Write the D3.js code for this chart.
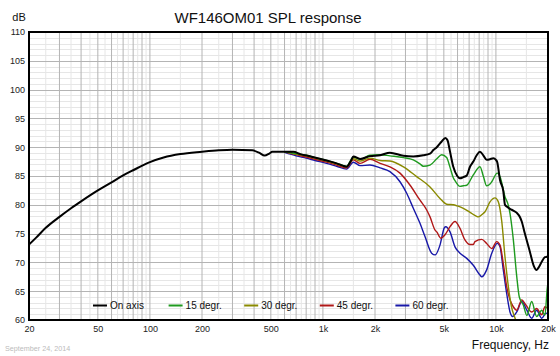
<!DOCTYPE html>
<html><head><meta charset="utf-8">
<script src="https://cdn.jsdelivr.net/npm/d3@7"></script>
<style>
html,body{margin:0;padding:0;background:#fff;}
svg{display:block;font-family:"Liberation Sans",Arial,sans-serif;}
</style></head>
<body><svg id="c" width="560" height="356"></svg>
<script>
// ---------- data ----------
const title = "WF146OM01 SPL response";
const xTickValues = [20,50,100,200,500,1000,2000,5000,10000,20000];
const xTickLabels = ["20","50","100","200","500","1k","2k","5k","10k","20k"];
const yTickValues = [60,65,70,75,80,85,90,95,100,105,110];
const seriesNames = ["On axis","15 degr.","30 degr.","45 degr.","60 degr."];
const seriesColors = ["#000000","#1f9a1f","#8a8a00","#b01818","#1818a8"];

const onAxisF = [20,22,25,30,35,40,50,60,70,80,100,120,150,200,250,300,390,430,460,490,510,610,675,740,850,1050,1200,1300,1370,1450,1500,1640,1870,2140,2440,2920,3330,3800,4160,4350,4550,4860,5100,5250,5430,5670,5980,6200,6480,6780,7080,7400,7740,8090,8450,8840,9240,9660,10000,10180,10560,11030,11280,11540,12060,12600,13200,13800,14100,14700,15700,16500,17200,17800,18400,19200,19800,20000];
const onAxisDb = [73.1,74.3,76.0,77.9,79.4,80.6,82.5,83.9,85.1,86.0,87.4,88.2,88.8,89.2,89.45,89.55,89.45,89.0,88.55,88.9,89.2,89.2,89.2,88.8,88.4,87.7,87.2,86.8,86.6,87.6,88.4,87.95,88.45,88.6,89.05,88.5,88.4,88.6,88.9,89.5,90.0,91.0,91.6,91.2,89.2,86.6,85.0,84.6,84.8,85.1,86.6,87.5,88.6,89.2,88.6,87.8,87.9,88.1,87.8,87.4,84.3,82.4,80.0,79.7,79.3,79.0,78.6,77.8,77.1,75.0,71.9,69.5,68.7,69.3,70.1,70.9,71.0,71.3];

const deg15F = [600,700,800,900,1050,1200,1370,1500,1640,1870,2140,2440,2920,3330,3640,3800,4160,4550,4860,5190,5430,5670,5800,6200,6480,6780,7400,8090,8450,8840,9240,9460,10180,10560,11280,11800,12060,12600,13200,13650,14400,15100,16100,17200,18400,19200,19800,20000];
const deg15Db = [89.2,88.9,88.6,88.2,87.7,87.2,86.7,88.3,87.9,88.6,88.7,88.5,88.2,87.8,87.1,86.7,86.9,88.0,88.7,88.2,86.5,84.7,84.2,83.2,83.3,83.4,85.2,86.6,85.0,83.3,83.6,84.0,85.5,84.9,81.4,79.9,78.5,74.0,67.5,64.0,62.6,60.8,63.2,60.6,61.7,60.8,65.5,66.5];

const deg30F = [600,700,800,900,1050,1200,1370,1500,1640,1870,2140,2440,2920,3480,4160,4750,5190,5670,5980,6480,7080,7740,7910,8450,8650,9240,9880,10300,10800,11280,11800,12300,12900,13500,15000,20000];
const deg30Db = [89.2,88.8,88.5,88.1,87.6,87.1,86.6,88.0,87.6,88.1,87.7,87.6,86.6,84.9,83.1,81.1,80.1,80.0,79.8,79.4,78.7,78.0,77.9,78.5,78.8,80.5,81.2,80.6,77.2,71.0,65.8,62.3,60.3,58.5,56.0,55.0];

const deg45F = [600,700,800,900,1050,1200,1370,1500,1640,1870,2140,2440,2790,3190,3640,3980,4160,4450,4550,4800,5080,5430,5800,6200,6620,7080,7400,7570,8280,8840,9460,10100,10560,11030,11540,12060,12600,13200,14100,14900,16100,17200,18400,19200,20000];
const deg45Db = [89.2,88.7,88.3,87.9,87.4,86.9,86.4,87.8,87.2,87.9,87.2,86.6,85.5,83.4,80.8,79.1,77.9,75.6,75.3,74.2,74.8,76.2,77.1,75.9,73.9,73.1,73.1,73.6,74.0,73.3,72.4,73.6,73.0,69.8,65.8,63.5,62.3,61.7,63.5,62.6,61.4,62.0,60.9,62.3,62.0];

const deg60F = [600,700,800,900,1050,1200,1370,1500,1640,1870,2140,2440,2790,3050,3330,3640,3890,4250,4450,4750,5030,5130,5430,5800,6200,6780,7400,8090,8280,8840,9460,10200,10560,11030,11540,12060,12500,13200,14100,15100,16100,17200,18400,19500,20000];
const deg60Db = [89.1,88.5,88.1,87.7,87.2,86.7,86.2,87.4,86.8,86.9,86.4,85.75,84.0,82.0,79.4,76.8,74.5,71.6,71.3,73.0,76.0,76.2,75.3,72.7,71.6,70.7,69.5,67.8,67.5,68.7,71.6,73.3,72.7,68.7,64.6,61.4,60.6,61.4,63.2,61.7,60.3,61.7,60.3,61.2,61.0];

const seriesF = [onAxisF,deg15F,deg30F,deg45F,deg60F];
const seriesDb = [onAxisDb,deg15Db,deg30Db,deg45Db,deg60Db];

// ---------- layout ----------
const L=29, R=548, T=32, B=320;
const svg = d3.select("#c");
const x = d3.scaleLog().domain([20,20000]).range([L,R]);
const y = d3.scaleLinear().domain([60,110]).range([B,T]);

// grid
const majorF=[], minorF=[];
for (let dec=10; dec<=10000; dec*=10){
  for (let n=1;n<=9;n++){
    const f=n*dec; if(f>20 && f<20000) majorF.push(f);
    const h=(n+0.5)*dec; if(h>20 && h<20000) minorF.push(h);
  }
}
const minorDb = d3.range(61,110).filter(v=>v%5!==0);
const majorDb = d3.range(65,110,5);
const g = svg.append("g");
g.selectAll(".hmin").data(minorDb).join("line")
  .attr("x1",L).attr("x2",R).attr("y1",d=>Math.round(y(d))+0.5).attr("y2",d=>Math.round(y(d))+0.5)
  .attr("stroke","#e6e6e6").attr("stroke-width",1);
g.selectAll(".vmin").data(minorF).join("line")
  .attr("y1",T).attr("y2",B).attr("x1",d=>x(d)).attr("x2",d=>x(d))
  .attr("stroke","#e6e6e6").attr("stroke-width",1);
g.selectAll(".hmaj").data(majorDb).join("line")
  .attr("x1",L).attr("x2",R).attr("y1",d=>Math.round(y(d))+0.5).attr("y2",d=>Math.round(y(d))+0.5)
  .attr("stroke","#b4b4b4").attr("stroke-width",1);
g.selectAll(".vmaj").data(majorF).join("line")
  .attr("y1",T).attr("y2",B).attr("x1",d=>x(d)).attr("x2",d=>x(d))
  .attr("stroke","#b4b4b4").attr("stroke-width",1);

// clip
svg.append("clipPath").attr("id","pc").append("rect")
  .attr("x",L).attr("y",T).attr("width",R-L).attr("height",B-T);

const line = d3.line().x(d=>x(d[0])).y(d=>y(d[1])).curve(d3.curveMonotoneX);
const curves = svg.append("g").attr("clip-path","url(#pc)");
[4,3,2,1,0].forEach(i=>{
  const pts = seriesF[i].map((f,k)=>[f,seriesDb[i][k]]);
  curves.append("path").attr("d",line(pts)).attr("fill","none")
    .attr("stroke",seriesColors[i]).attr("stroke-width",i===0?2:1.4)
    .attr("stroke-linejoin","round");
});

// legend
const leg = svg.append("g");
seriesNames.forEach((n,i)=>{
  const lx = 93 + i*75.6;
  leg.append("line").attr("x1",lx).attr("x2",lx+14).attr("y1",305.5).attr("y2",305.5)
    .attr("stroke",seriesColors[i]).attr("stroke-width",2);
  leg.append("text").attr("x",lx+17).attr("y",309).attr("font-size","10px").attr("fill","#111").text(n);
});

// frame
svg.append("rect").attr("x",L).attr("y",T).attr("width",R-L).attr("height",B-T)
  .attr("fill","none").attr("stroke","#000").attr("stroke-width",2);

// axes
const xa = svg.append("g").attr("transform",`translate(0,${B})`)
  .call(d3.axisBottom(x).tickValues(xTickValues).tickFormat((d,i)=>xTickLabels[i]).tickSize(0).tickPadding(6));
xa.select(".domain").remove();
xa.selectAll("text").attr("font-size","9px").attr("fill","#222").attr("font-family","Liberation Sans, Arial, sans-serif");
const ya = svg.append("g").attr("transform",`translate(${L},0)`)
  .call(d3.axisLeft(y).tickValues(yTickValues).tickSize(0).tickPadding(4));
ya.select(".domain").remove();
ya.selectAll("text").attr("font-size","9px").attr("fill","#222").attr("font-family","Liberation Sans, Arial, sans-serif");

// texts
svg.append("text").attr("x",268).attr("y",22.5).attr("text-anchor","middle")
  .attr("font-size","15px").attr("fill","#111").text(title);
svg.append("text").attr("x",12.3).attr("y",20.7).attr("font-size","11px").attr("fill","#111").text("dB");
svg.append("text").attr("x",549).attr("y",348.5).attr("text-anchor","end")
  .attr("font-size","12px").attr("fill","#111").text("Frequency, Hz");
svg.append("text").attr("x",5).attr("y",351).attr("font-size","7.2px").attr("fill","#bbbbbb").text("September  24, 2014");
</script>
</body></html>
